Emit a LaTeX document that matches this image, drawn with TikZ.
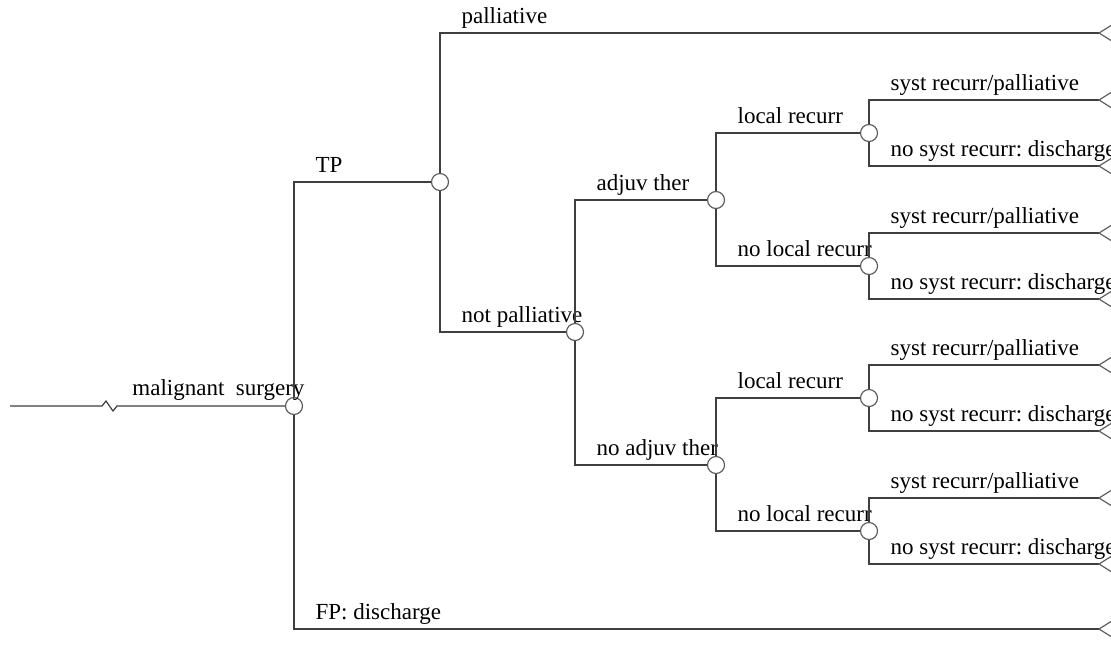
\documentclass[tikz,border=0pt]{standalone}
\usepackage{fontspec}
\setmainfont{Liberation Serif}
\frenchspacing
\definecolor{treeLine}{HTML}{3F3F3F}
\definecolor{treeNode}{HTML}{5E5E5E}
\tikzset{
  tree branch/.style={draw=treeLine, line width=0.6pt},
  tree chance/.style={circle, draw=treeNode, fill=white, line width=0.6pt, minimum size=8.5pt, inner sep=0pt},
  tree terminal/.style={draw=treeNode, line width=0.6pt},
  tree label/.style={font=\fontsize{11.5}{14}\selectfont, text=black, anchor=base west, inner sep=0pt, xshift=10.5pt, yshift=5pt},
}

\begin{document}
\begin{tikzpicture}[x=0.5pt,y=-0.5pt]
  \useasboundingbox (0,0) rectangle (1111,666);
  % chance nodes
  \node[tree chance] (surg) at (294,406) {};
  \node[tree chance] (tp) at (440,182) {};
  \node[tree chance] (notpal) at (575,332) {};
  \node[tree chance] (adj) at (716,200) {};
  \node[tree chance] (noadj) at (716,465) {};
  \foreach \n/\y in {adjlr/133, adjnlr/266, noadjlr/398, noadjnlr/531} {
    \node[tree chance] (\n) at (869,\y) {};
    \coordinate (\n-s) at (1099,\y-33);
    \coordinate (\n-d) at (1099,\y+33);
  }
  % root and end points
  \coordinate (root) at (10,406);
  \coordinate (endpal) at (1099,33);
  \coordinate (endfp) at (1099,629);
  % branches
  \draw[tree branch] (root) -- (102,406) -- (106,401) -- (113,411) -- (117,406) -- (surg);
  \node[tree label, yshift=0.5pt] (rootlbl) at (111,406) {malignant\ \ surgery};
  \draw[tree branch] (surg) |- node[tree label] {TP} (tp);
  \draw[tree branch] (surg) |- node[tree label] {FP: discharge} (endfp);
  \draw[tree branch] (tp) |- node[tree label] {palliative} (endpal);
  \draw[tree branch] (tp) |- node[tree label] {not palliative} (notpal);
  \draw[tree branch] (notpal) |- node[tree label] {adjuv ther} (adj);
  \draw[tree branch] (notpal) |- node[tree label] {no adjuv ther} (noadj);
  \draw[tree branch] (adj) |- node[tree label] {local recurr} (adjlr);
  \draw[tree branch] (adj) |- node[tree label] {no local recurr} (adjnlr);
  \draw[tree branch] (noadj) |- node[tree label] {local recurr} (noadjlr);
  \draw[tree branch] (noadj) |- node[tree label] {no local recurr} (noadjnlr);
  \foreach \n in {adjlr,adjnlr,noadjlr,noadjnlr} {
    \draw[tree branch] (\n) |- node[tree label] {syst recurr/palliative} (\n-s);
    \draw[tree branch] (\n) |- node[tree label] {no syst recurr: discharge} (\n-d);
  }
  % terminal nodes
  \foreach \t in {endpal,endfp,adjlr-s,adjlr-d,adjnlr-s,adjnlr-d,noadjlr-s,noadjlr-d,noadjnlr-s,noadjnlr-d}
    \draw[tree terminal] (\t) -- ++(16,-10) -- ++(0,20) -- cycle;
\end{tikzpicture}
\end{document}
